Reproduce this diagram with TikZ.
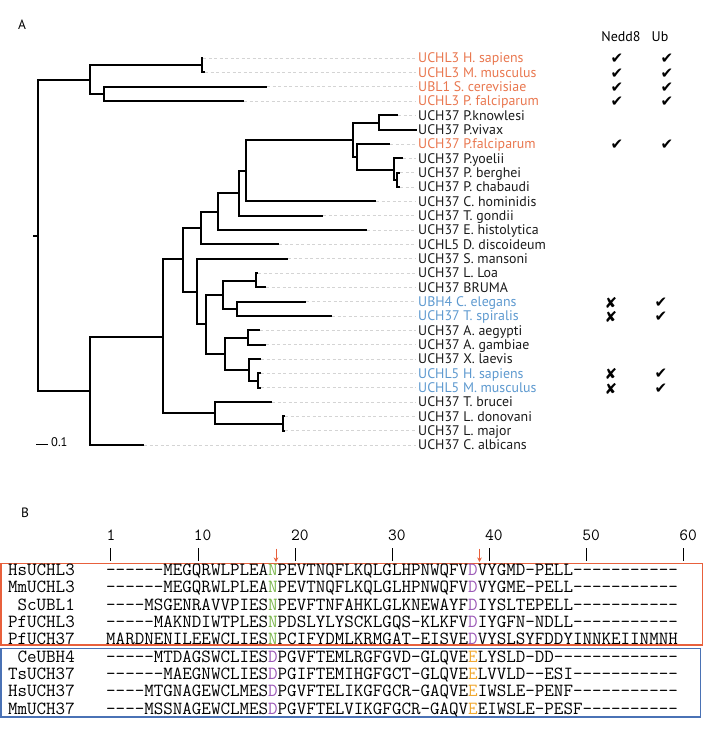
\documentclass[tikz,border=0pt]{standalone}
\usepackage{fontspec}
\setmainfont{PT Sans}
\newfontfamily\symfont{DejaVu Sans}
\usetikzlibrary{arrows.meta}
\definecolor{orT}{HTML}{E9774F}
\definecolor{blT}{HTML}{5D99CF}
\definecolor{boxO}{HTML}{E8603C}
\definecolor{boxB}{HTML}{4A72B5}
\definecolor{resN}{HTML}{79B54A}
\definecolor{resD}{HTML}{9B59B6}
\definecolor{resE}{HTML}{F0A830}
\definecolor{leadG}{HTML}{D4D4D4}
\definecolor{blk}{HTML}{1A1A1A}
\newcommand{\rN}{\textcolor{resN}{N}}
\newcommand{\rD}{\textcolor{resD}{D}}
\newcommand{\rE}{\textcolor{resE}{E}}
\tikzset{
  br/.style={line width=2.1pt, line join=miter, black},
  lead/.style={leadG, line width=0.7pt, dash pattern=on 3pt off 2.5pt},
  lab/.style={anchor=base west, inner sep=0pt, font=\fontsize{13.9}{13.9}\selectfont},
  mk/.style={inner sep=0pt, font=\symfont\fontsize{15}{15}\selectfont},
  seq/.style={anchor=base west, inner sep=0pt, font=\ttfamily\fontsize{18.5}{18.5}\selectfont},
  nm/.style={anchor=base east, inner sep=0pt, font=\ttfamily\fontsize{18.5}{18.5}\selectfont},
  num/.style={anchor=base west, inner sep=0pt, font=\ttfamily\fontsize{17}{17}\selectfont},
  tick/.style={line width=0.9pt, black},
  redarrow/.style={boxO, line width=0.9pt, -{Stealth[length=4.5pt,width=4.5pt]}},
  panel/.style={inner sep=0pt, font=\fontsize{13.5}{13.5}\selectfont},
}
\begin{document}
\begin{tikzpicture}[x=1pt,y=-1pt]
\useasboundingbox (0,0) rectangle (705,753);

% panel labels
\node[panel] (pA) at (22,25) {A};
\node[panel] (pB) at (25,513) {B};
\node[panel,font=\fontsize{14}{14}\selectfont] (hN) at (621,37) {Nedd8};
\node[panel,font=\fontsize{14}{14}\selectfont] (hU) at (660,37) {Ub};

% leaf tips and leader ends
\foreach \i/\x in {0/203,1/205,2/267,3/244,4/398,5/417,6/390,7/403,8/400,9/400,
  10/376,11/323,12/367,13/279,14/288,15/258,16/266,17/306,18/332,19/260,20/266,
  21/261,22/261,23/261,24/272,25/285,26/285,27/144} {
  \coordinate (t\i) at (\x,{58+14.33*\i});
  \coordinate (e\i) at (416,{58+14.33*\i});
}

% leaf labels
\foreach \i/\t/\c in {0/UCHL3 H. sapiens/orT,1/UCHL3 M. musculus/orT,2/UBL1 S. cerevisiae/orT,
  3/UCHL3 P. falciparum/orT,4/UCH37 P.knowlesi/blk,5/UCH37 P.vivax/blk,6/UCH37 P.falciparum/orT,
  7/UCH37 P.yoelii/blk,8/UCH37 P. berghei/blk,9/UCH37 P. chabaudi/blk,10/UCH37 C. hominidis/blk,
  11/UCH37 T. gondii/blk,12/UCH37 E. histolytica/blk,13/UCHL5 D. discoideum/blk,
  14/UCH37 S. mansoni/blk,15/UCH37 L. Loa/blk,16/UCH37 BRUMA/blk,17/UBH4 C. elegans/blT,
  18/UCH37 T. spiralis/blT,19/UCH37 A. aegypti/blk,20/UCH37 A. gambiae/blk,21/UCH37 X. laevis/blk,
  22/UCHL5 H. sapiens/blT,23/UCHL5 M. musculus/blT,24/UCH37 T. brucei/blk,25/UCH37 L. donovani/blk,
  26/UCH37 L. major/blk,27/UCH37 C. albicans/blk}
  \node[lab,text=\c] (l\i) at (418,{58+14.33*\i+4.9}) {\t};

% leaders
\foreach \i in {0,1,2,3,4,6,7,8,9,10,11,12,13,14,15,16,17,18,19,20,21,22,23,24,25,26,27}
  \draw[lead] (t\i) -- (e\i);

% internal nodes
\coordinate (stub) at (33,236);
\coordinate (root) at (38,236);
\coordinate (A) at (90,80);
\coordinate (A1) at (202,65);
\coordinate (A2) at (104,94);
\coordinate (B) at (90,391);
\coordinate (B1) at (163,337);
\coordinate (C) at (183,259);
\coordinate (D) at (215,413);
\coordinate (D1) at (283,424);
\coordinate (E) at (201,228);
\coordinate (G) at (218,212);
\coordinate (H) at (239,193);
\coordinate (I) at (246,171);
\coordinate (J) at (353,140);
\coordinate (K) at (379,123);
\coordinate (L) at (357,157);
\coordinate (M) at (394,170);
\coordinate (N) at (397,180);
\coordinate (F) at (197,292);
\coordinate (P) at (206,324);
\coordinate (Q) at (223,295);
\coordinate (R) at (225,354);
\coordinate (S) at (256,281);
\coordinate (T) at (237,309);
\coordinate (U) at (248,338);
\coordinate (V) at (249,370);
\coordinate (W) at (258,381);

\draw[br] (stub) -- (root);
\draw[br] (root) |- (A) (root) |- (B);
\draw[br] (A) |- (A1) (A) |- (A2);
\draw[br] (A1) |- (t0) (A1) |- (t1);
\draw[br] (A2) |- (t2) (A2) |- (t3);
\draw[br] (B) |- (B1) (B) |- (t27);
\draw[br] (B1) |- (C) (B1) |- (D);
\draw[br] (D) |- (t24) (D) |- (D1);
\draw[br] (D1) |- (t25) (D1) |- (t26);
\draw[br] (C) |- (E) (C) |- (F);
\draw[br] (E) |- (G) (E) |- (t13);
\draw[br] (G) |- (H) (G) |- (t12);
\draw[br] (H) |- (I) (H) |- (t11);
\draw[br] (I) |- (J) (I) |- (t10);
\draw[br] (J) |- (K) (J) |- (L);
\draw[br] (K) |- (t4) (K) |- (t5);
\draw[br] (L) |- (t6) (L) |- (M);
\draw[br] (M) |- (t7) (M) |- (N);
\draw[br] (N) |- (t8) (N) |- (t9);
\draw[br] (F) |- (t14) (F) |- (P);
\draw[br] (P) |- (Q) (P) |- (R);
\draw[br] (Q) |- (S) (Q) |- (T);
\draw[br] (S) |- (t15) (S) |- (t16);
\draw[br] (T) |- (t17) (T) |- (t18);
\draw[br] (R) |- (U) (R) |- (V);
\draw[br] (U) |- (t19) (U) |- (t20);
\draw[br] (V) |- (t21) (V) |- (W);
\draw[br] (W) |- (t22) (W) |- (t23);

% scale bar
\coordinate (sb1) at (36,444);
\coordinate (sb2) at (48,444);
\draw[line width=0.9pt] (sb1) -- (sb2);
\node[anchor=west,inner sep=0pt,font=\fontsize{12.5}{12.5}\selectfont] (sbl) at (51,442) {0.1};

% activity marks
\foreach \i in {0,1,2,3,6} {
  \node[mk] (cn\i) at (617,{58+14.33*\i+1}) {✔};
  \node[mk] (cu\i) at (667,{58+14.33*\i+1}) {✔};
}
\foreach \i in {17,18,22,23} {
  \node[mk] (xn\i) at (611,{58+14.33*\i+1}) {✘};
  \node[mk] (cu\i) at (661,{58+14.33*\i+1}) {✔};
}

% ruler
\foreach \p/\x in {1/110.9,10/198.2,20/295.3,30/392.4,40/489.5,50/586.6,60/683.7} {
  \node[num] (n\p) at (\x-4.5,540.5) {\p};
  \coordinate (tka\p) at (\x,548);
  \coordinate (tkb\p) at (\x,561);
  \draw[tick] (tka\p) -- (tkb\p);
}
\coordinate (a1s) at (276,548.5);
\coordinate (a1e) at (276,562);
\coordinate (a2s) at (479.5,548.5);
\coordinate (a2e) at (479.5,562);
\draw[redarrow] (a1s) -- (a1e);
\draw[redarrow] (a2s) -- (a2e);

% boxes
\draw[boxO, line width=1.6pt] (1,563.5) rectangle (702.5,645);
\draw[boxB, line width=1.6pt] (1,648.5) rectangle (700.5,717);

% alignment
\foreach \j/\n/\s in {
  0/HsUCHL3/{------MEGQRWLPLEA\rN PEVTNQFLKQLGLHPNWQFV\rD VYGMD-PELL-----------},
  1/MmUCHL3/{------MEGQRWLPLEA\rN PEVTNQFLKQLGLHPNWQFV\rD VYGME-PELL-----------},
  2/ScUBL1/{----MSGENRAVVPIES\rN PEVFTNFAHKLGLKNEWAYF\rD IYSLTEPELL-----------},
  3/PfUCHL3/{-----MAKNDIWTPLES\rN PDSLYLYSCKLGQS-KLKFV\rD IYGFN-NDLL-----------},
  4/PfUCH37/{MARDNENILEEWCLIES\rN PCIFYDMLKRMGAT-EISVE\rD VYSLSYFDDYINNKEIINMNH},
  5/CeUBH4/{-----MTDAGSWCLIES\rD PGVFTEMLRGFGVD-GLQVE\rE LYSLD-DD-------------},
  6/TsUCH37/{------MAEGNWCLIES\rD PGIFTEMIHGFGCT-GLQVE\rE LVVLD--ESI-----------},
  7/HsUCH37/{----MTGNAGEWCLMES\rD PGVFTELIKGFGCR-GAQVE\rE IWSLE-PENF-----------},
  8/MmUCH37/{----MSSNAGEWCLMES\rD PGVFTELVIKGFGCR-GAQV\rE EIWSLE-PESF----------}} {
  \node[nm] (nm\j) at (75,{570+17.35*\j+5.5}) {\n};
  \node[seq] (sq\j) at (106,{570+17.35*\j+5.5}) {\s};
}
\end{tikzpicture}
\end{document}
